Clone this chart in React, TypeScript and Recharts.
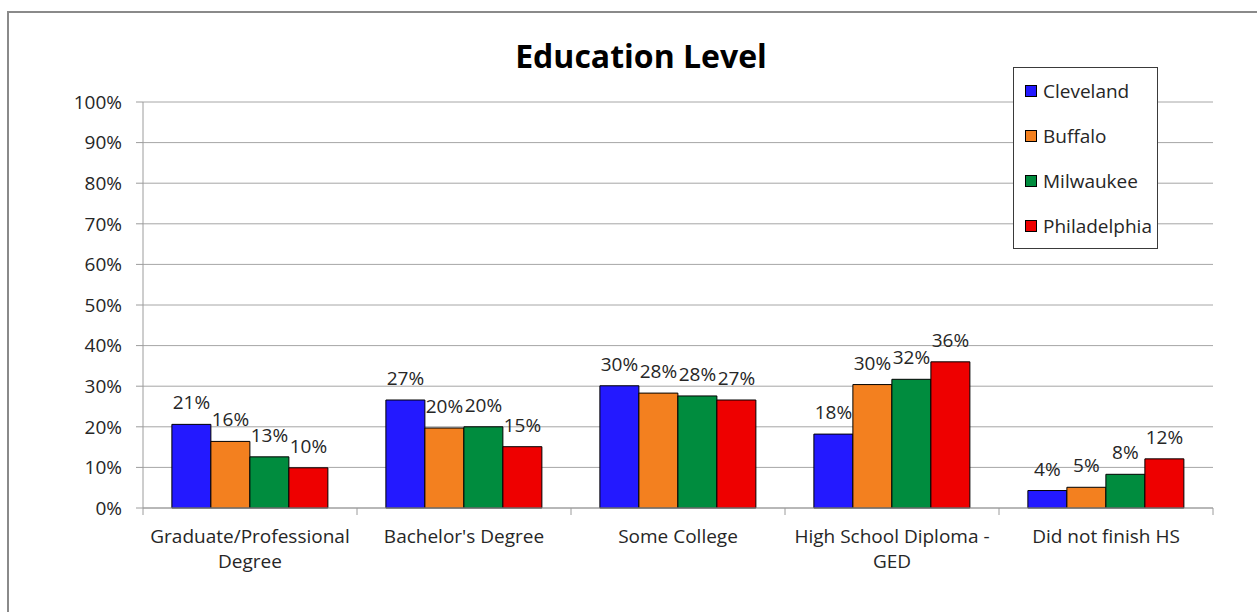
import React from 'react'
import { BarChart, Bar, XAxis, YAxis, CartesianGrid, LabelList, Legend } from 'recharts'

// '\n' marks where the category label wraps in the picture
const CATEGORIES = [
  'Graduate/Professional\nDegree',
  "Bachelor's Degree",
  'Some College',
  'High School Diploma -\nGED',
  'Did not finish HS',
]

// shares (labels show the rounded percent)
const CLEVELAND = [0.206, 0.266, 0.301, 0.182, 0.043]
const BUFFALO = [0.164, 0.197, 0.283, 0.304, 0.051]
const MILWAUKEE = [0.126, 0.2, 0.276, 0.317, 0.083]
const PHILADELPHIA = [0.099, 0.151, 0.266, 0.36, 0.121]

const Y_TICKS = [0, 0.1, 0.2, 0.3, 0.4, 0.5, 0.6, 0.7, 0.8, 0.9, 1]

const SERIES = [
  { key: 'Cleveland', color: '#2319FF', values: CLEVELAND },
  { key: 'Buffalo', color: '#F3801F', values: BUFFALO },
  { key: 'Milwaukee', color: '#008C3E', values: MILWAUKEE },
  { key: 'Philadelphia', color: '#EE0000', values: PHILADELPHIA },
]

const W = 1257
const H = 612
const PLOT_LEFT = 143
const PLOT_RIGHT = 1213
const PLOT_TOP = 102
const PLOT_BOTTOM = 508
const BAND = (PLOT_RIGHT - PLOT_LEFT) / CATEGORIES.length
const FONT = "'Open Sans', sans-serif"
const TEXT = '#262626'
const AXIS = '#9c9c9c'

const data = CATEGORIES.map((name, i) => {
  const row: Record<string, string | number> = { name }
  SERIES.forEach(s => {
    row[s.key] = s.values[i]
  })
  return row
})

const pct = (v: number) => `${Math.round(v * 100)}%`

// category label plus the small tick marks sitting between categories
function CategoryTick(props: any) {
  const { x, payload, index } = props
  const last = index === CATEGORIES.length - 1
  const lines = String(payload.value).split('\n')
  return (
    <g>
      <line x1={x - BAND / 2} x2={x - BAND / 2} y1={PLOT_BOTTOM} y2={PLOT_BOTTOM + 7} stroke={AXIS} />
      {last && (
        <line x1={x + BAND / 2} x2={x + BAND / 2} y1={PLOT_BOTTOM} y2={PLOT_BOTTOM + 7} stroke={AXIS} />
      )}
      <text x={x} y={PLOT_BOTTOM + 35} textAnchor="middle" fontSize={19} fontFamily={FONT} fill={TEXT}>
        {lines.map((l, i) => (
          <tspan key={i} x={x} dy={i === 0 ? 0 : 25}>
            {l}
          </tspan>
        ))}
      </text>
    </g>
  )
}

function LegendBox() {
  return (
    <div
      style={{
        width: 145,
        height: 182,
        boxSizing: 'border-box',
        border: '1px solid #3a3a3a',
        background: '#fff',
        fontFamily: FONT,
        fontSize: 19,
        color: TEXT,
      }}
    >
      {SERIES.map(s => (
        <div key={s.key} style={{ height: 45, display: 'flex', alignItems: 'center', paddingLeft: 11 }}>
          <span
            style={{
              width: 12,
              height: 12,
              boxSizing: 'border-box',
              border: '1px solid #000',
              background: s.color,
              marginRight: 6,
              display: 'inline-block',
            }}
          />
          {s.key}
        </div>
      ))}
    </div>
  )
}

export default function App() {
  return (
    <div style={{ position: 'absolute', left: 0, top: 0, width: W, height: H, overflow: 'hidden', background: '#fff' }}>
      <div
        style={{
          position: 'absolute',
          left: 7,
          top: 11,
          width: W,
          height: H,
          borderLeft: '2px solid #8a8a8a',
          borderTop: '2px solid #8a8a8a',
        }}
      />
      <div
        style={{
          position: 'absolute',
          left: 441,
          top: 40,
          width: 400,
          textAlign: 'center',
          fontFamily: FONT,
          fontWeight: 700,
          fontSize: 32,
          lineHeight: '32px',
          color: '#000',
        }}
      >
        Education Level
      </div>
      <div style={{ position: 'absolute', left: 0, top: 0 }}>
        <BarChart
          width={W}
          height={H}
          data={data}
          margin={{ top: PLOT_TOP, right: W - PLOT_RIGHT, left: 0, bottom: H - PLOT_BOTTOM - 80 }}
          barCategoryGap="13.5%"
          barGap={0}
        >
          <CartesianGrid vertical={false} stroke="#a6a6a6" />
          <XAxis
            dataKey="name"
            height={80}
            interval={0}
            tickLine={false}
            axisLine={{ stroke: AXIS }}
            tick={<CategoryTick />}
          />
          <YAxis
            width={PLOT_LEFT}
            domain={[0, 1]}
            ticks={Y_TICKS}
            tickFormatter={pct}
            tickSize={7}
            tickMargin={14}
            axisLine={{ stroke: AXIS }}
            tickLine={{ stroke: AXIS }}
            tick={{ fill: TEXT, fontSize: 19, fontFamily: FONT }}
          />
          <Legend
            layout="vertical"
            align="center"
            verticalAlign="middle"
            wrapperStyle={{ left: 1013, top: 67, width: 145, height: 182 }}
            content={() => <LegendBox />}
          />
          {SERIES.map(s => (
            <Bar key={s.key} dataKey={s.key} fill={s.color} stroke="#000" strokeWidth={1} isAnimationActive={false}>
              <LabelList
                dataKey={s.key}
                position="top"
                offset={15}
                formatter={(v: any) => pct(Number(v))}
                fill={TEXT}
                fontSize={19}
                fontFamily={FONT}
              />
            </Bar>
          ))}
        </BarChart>
      </div>
    </div>
  )
}
